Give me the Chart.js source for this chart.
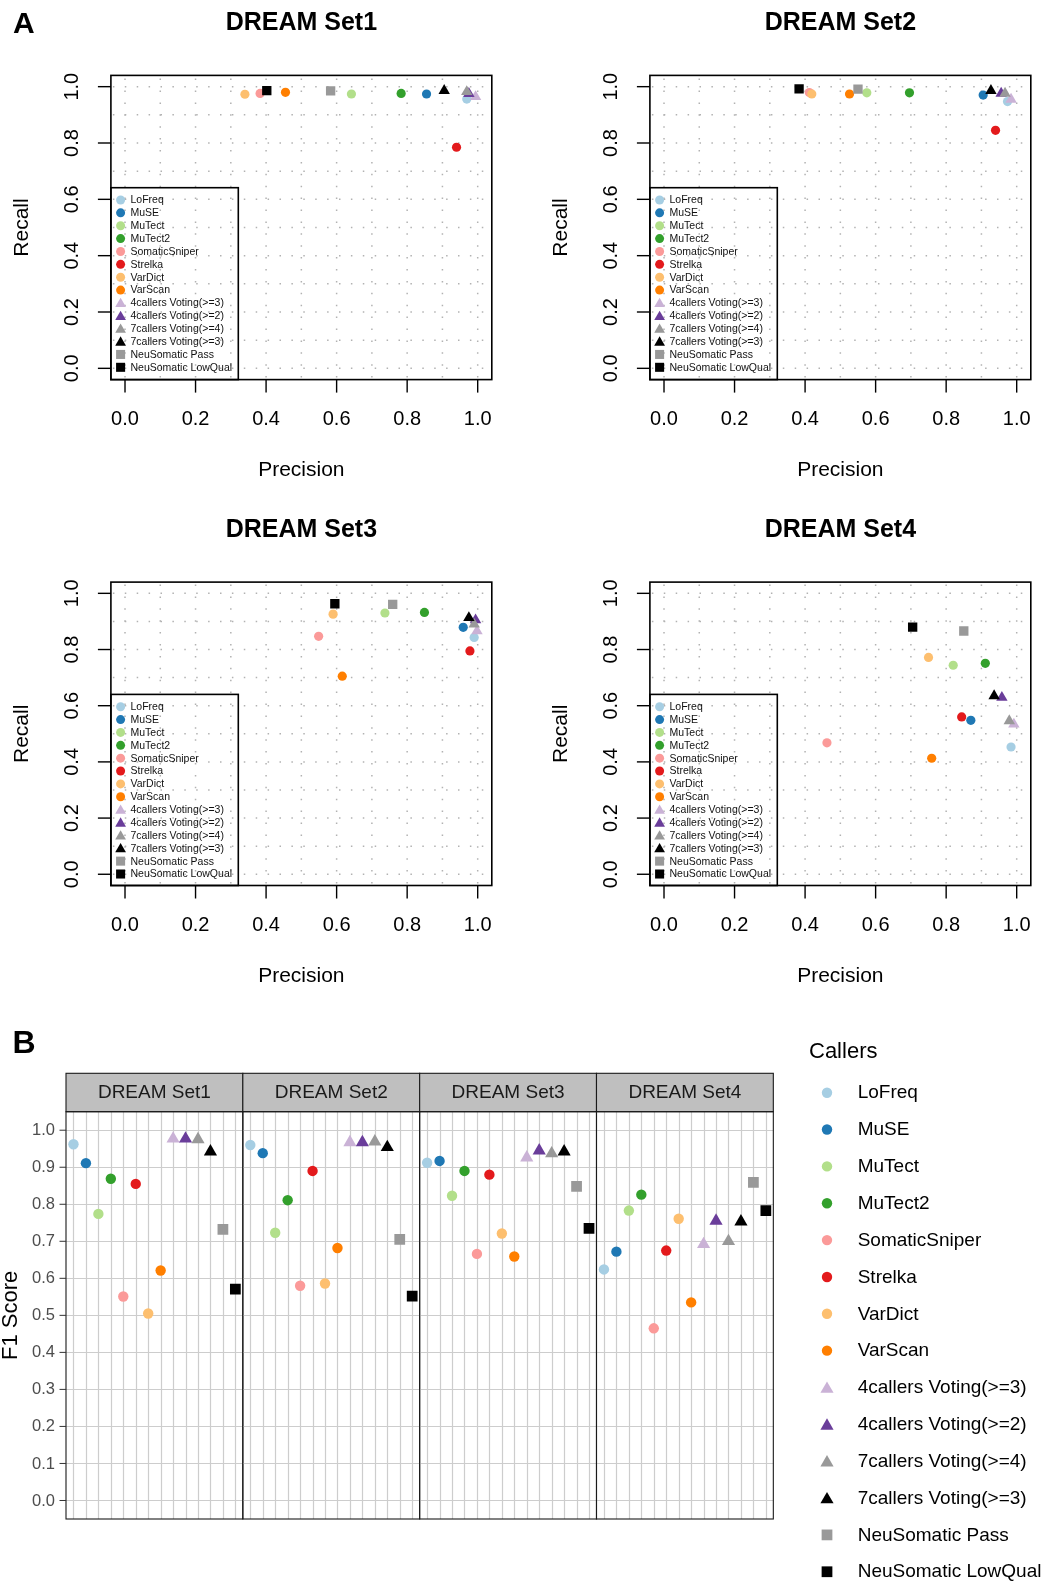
<!DOCTYPE html>
<html>
<head>
<meta charset="utf-8">
<title>DREAM callers</title>
<script src="https://cdn.jsdelivr.net/npm/chart.js@4.4.1/dist/chart.umd.min.js"></script>
<style>
  body { margin: 0; background: #fff; }
  #page { position: relative; width: 1058px; height: 1585px; overflow: hidden; background: #fff; }
  #page canvas { position: absolute; }
</style>
</head>
<body>
<div id="page"></div>
<script>
var FONT = '"Liberation Sans", Arial, Helvetica, sans-serif'

// callers, colours and marker shapes
var callers = ['LoFreq', 'MuSE', 'MuTect', 'MuTect2', 'SomaticSniper', 'Strelka', 'VarDict', 'VarScan',
  '4callers Voting(>=3)', '4callers Voting(>=2)', '7callers Voting(>=4)', '7callers Voting(>=3)',
  'NeuSomatic Pass', 'NeuSomatic LowQual']
var callerColors = ['#a6cee3', '#1f78b4', '#b2df8a', '#33a02c', '#fb9a99', '#e31a1c', '#fdbf6f', '#ff7f00',
  '#cab2d6', '#6a3d9a', '#999999', '#000000', '#999999', '#000000']
var callerShapes = ['circle', 'circle', 'circle', 'circle', 'circle', 'circle', 'circle', 'circle',
  'triangle', 'triangle', 'triangle', 'triangle', 'rect', 'rect']

var setNames = ['DREAM Set1', 'DREAM Set2', 'DREAM Set3', 'DREAM Set4']

// precision / recall per set, same order as callers
var precisionSet1 = [0.969, 0.855, 0.642, 0.783, 0.383, 0.940, 0.340, 0.455, 0.994, 0.975, 0.969, 0.905, 0.583, 0.402]
var recallSet1 = [0.956, 0.974, 0.974, 0.976, 0.976, 0.785, 0.973, 0.980, 0.964, 0.975, 0.982, 0.986, 0.985, 0.986]
var precisionSet2 = [0.974, 0.905, 0.575, 0.696, 0.412, 0.940, 0.419, 0.526, 0.984, 0.956, 0.967, 0.927, 0.550, 0.383]
var recallSet2 = [0.947, 0.970, 0.978, 0.978, 0.979, 0.845, 0.974, 0.974, 0.955, 0.976, 0.976, 0.986, 0.991, 0.992]
var precisionSet3 = [0.990, 0.959, 0.737, 0.849, 0.549, 0.978, 0.590, 0.616, 0.998, 0.994, 0.990, 0.975, 0.759, 0.595]
var recallSet3 = [0.843, 0.879, 0.930, 0.932, 0.847, 0.795, 0.926, 0.705, 0.866, 0.905, 0.890, 0.913, 0.961, 0.963]
var precisionSet4 = [0.984, 0.870, 0.820, 0.911, 0.462, 0.844, 0.750, 0.759, 0.992, 0.958, 0.979, 0.936, 0.850, 0.705]
var recallSet4 = [0.453, 0.548, 0.744, 0.751, 0.468, 0.560, 0.772, 0.413, 0.534, 0.629, 0.546, 0.635, 0.866, 0.880]

// F1 scores per set
var f1Set1 = [0.962, 0.911, 0.774, 0.869, 0.551, 0.855, 0.505, 0.621, 0.977, 0.977, 0.975, 0.942, 0.732, 0.571]
var f1Set2 = [0.960, 0.938, 0.723, 0.811, 0.580, 0.890, 0.586, 0.682, 0.967, 0.967, 0.969, 0.954, 0.705, 0.552]
var f1Set3 = [0.912, 0.917, 0.823, 0.890, 0.666, 0.880, 0.721, 0.659, 0.926, 0.945, 0.937, 0.942, 0.848, 0.735]
var f1Set4 = [0.624, 0.672, 0.783, 0.826, 0.465, 0.675, 0.761, 0.535, 0.692, 0.755, 0.700, 0.753, 0.859, 0.783]

// axis ticks
var prTicks = [0, 0.2, 0.4, 0.6, 0.8, 1.0]
var prGrid = [0, 0.1, 0.2, 0.3, 0.4, 0.5, 0.6, 0.7, 0.8, 0.9, 1.0]
var f1Ticks = [0, 0.1, 0.2, 0.3, 0.4, 0.5, 0.6, 0.7, 0.8, 0.9, 1.0]

var precisionBySet = [precisionSet1, precisionSet2, precisionSet3, precisionSet4]
var recallBySet = [recallSet1, recallSet2, recallSet3, recallSet4]
var f1BySet = [f1Set1, f1Set2, f1Set3, f1Set4]

var page = document.getElementById('page')

function makeCanvas (left, top, width, height) {
  var c = document.createElement('canvas')
  c.width = width
  c.height = height
  c.style.left = left + 'px'
  c.style.top = top + 'px'
  c.style.width = width + 'px'
  c.style.height = height + 'px'
  page.appendChild(c)
  return c
}

// same geometry as Chart.js point styles, for the legends
function drawMarker (ctx, shape, x, y, r, color) {
  ctx.fillStyle = color
  ctx.beginPath()
  if (shape === 'circle') {
    ctx.arc(x, y, r, 0, Math.PI * 2)
  } else if (shape === 'triangle') {
    ctx.moveTo(x, y - r)
    ctx.lineTo(x + 0.866 * r, y + 0.5 * r)
    ctx.lineTo(x - 0.866 * r, y + 0.5 * r)
    ctx.closePath()
  } else {
    var s = r * Math.SQRT1_2
    ctx.rect(x - s, y - s, 2 * s, 2 * s)
  }
  ctx.fill()
}

function rotatedText (ctx, text, x, y) {
  ctx.save()
  ctx.translate(x, y)
  ctx.rotate(-Math.PI / 2)
  ctx.fillText(text, 0, 0)
  ctx.restore()
}

function fmt (v) { return v.toFixed(1) }

function pointDatasets (k, xOf, yOf, radius) {
  return callers.map(function (name, i) {
    return {
      label: name,
      data: [{ x: xOf(k, i), y: yOf(k, i) }],
      pointStyle: callerShapes[i],
      pointRadius: radius[callerShapes[i]],
      pointHoverRadius: radius[callerShapes[i]],
      pointBackgroundColor: callerColors[i],
      pointBorderColor: callerColors[i],
      pointBorderWidth: 0,
      clip: 12,
      order: -i
    }
  })
}

// ---- A: precision / recall scatter panels ----

var prRadius = { circle: 4.6, triangle: 6.6, rect: 6.6 }
var prLegendRadius = { circle: 4.5, triangle: 6.2, rect: 6.4 }

var prPanels = [
  { left: 0, top: 0, pad: { left: 110.9, top: 75.4, right: 37.2, bottom: 120.4 } },
  { left: 529, top: 0, pad: { left: 120.9, top: 75.4, right: 27.2, bottom: 120.4 } },
  { left: 0, top: 500, pad: { left: 110.9, top: 82.1, right: 37.2, bottom: 114.5 } },
  { left: 529, top: 500, pad: { left: 120.9, top: 82.1, right: 27.2, bottom: 114.5 } }
]

function prPanelPlugin (k) {
  return {
    id: 'prPanel' + k,
    beforeDatasetsDraw: function (chart) {
      var ctx = chart.ctx
      var a = chart.chartArea
      var xs = chart.scales.x
      var ys = chart.scales.y
      ctx.save()
      ctx.strokeStyle = '#b2b2b2'
      ctx.lineWidth = 1.5
      ctx.setLineDash([1.5, 10.4])
      prGrid.forEach(function (v) {
        var px = xs.getPixelForValue(v)
        ctx.beginPath()
        ctx.moveTo(px, a.bottom - 2)
        ctx.lineTo(px, a.top)
        ctx.stroke()
        var py = ys.getPixelForValue(v)
        ctx.beginPath()
        ctx.moveTo(a.left + 2, py)
        ctx.lineTo(a.right, py)
        ctx.stroke()
      })
      ctx.restore()
    },
    afterDatasetsDraw: function (chart) {
      var ctx = chart.ctx
      var a = chart.chartArea
      var xs = chart.scales.x
      var ys = chart.scales.y
      ctx.save()
      ctx.strokeStyle = '#000'
      ctx.fillStyle = '#000'
      ctx.lineWidth = 1.6

      // plot box
      ctx.strokeRect(a.left, a.top, a.right - a.left, a.bottom - a.top)

      // axes
      ctx.lineWidth = 1.4
      ctx.font = '20px ' + FONT
      ctx.textAlign = 'center'
      ctx.textBaseline = 'middle'
      prTicks.forEach(function (v) {
        var px = xs.getPixelForValue(v)
        ctx.beginPath()
        ctx.moveTo(px, a.bottom)
        ctx.lineTo(px, a.bottom + 13)
        ctx.stroke()
        ctx.fillText(fmt(v), px, a.bottom + 40)
        var py = ys.getPixelForValue(v)
        ctx.beginPath()
        ctx.moveTo(a.left - 13, py)
        ctx.lineTo(a.left, py)
        ctx.stroke()
        rotatedText(ctx, fmt(v), a.left - 38, py)
      })
      ctx.font = '21px ' + FONT
      ctx.fillText('Precision', (a.left + a.right) / 2, a.bottom + 90.5)
      rotatedText(ctx, 'Recall', a.left - 89, (a.top + a.bottom) / 2)

      // title and panel letter
      ctx.font = 'bold 25px ' + FONT
      ctx.fillText(setNames[k], (a.left + a.right) / 2, a.top - 52)
      if (k === 0) {
        ctx.font = 'bold 30px ' + FONT
        ctx.textAlign = 'left'
        ctx.textBaseline = 'alphabetic'
        ctx.fillText('A', 13, 33)
      }

      // bottom-left legend
      var lTop = a.top + 112.3
      ctx.lineWidth = 1.6
      ctx.strokeRect(a.left, lTop, 127.4, a.bottom - lTop)
      ctx.font = '10.5px ' + FONT
      ctx.textAlign = 'left'
      ctx.textBaseline = 'middle'
      callers.forEach(function (name, i) {
        var y = lTop + 12.3 + i * 12.87
        drawMarker(ctx, callerShapes[i], a.left + 9.7, y + (callerShapes[i] === 'triangle' ? 1 : 0), prLegendRadius[callerShapes[i]], callerColors[i])
        ctx.fillStyle = '#111'
        ctx.fillText(name, a.left + 19.6, y + 0.5)
      })
      ctx.restore()
    }
  }
}

prPanels.forEach(function (p, k) {
  var canvas = makeCanvas(p.left, p.top, 529, 500)
  new Chart(canvas, {
    type: 'scatter',
    data: {
      datasets: pointDatasets(k,
        function (s, i) { return precisionBySet[s][i] },
        function (s, i) { return recallBySet[s][i] },
        prRadius)
    },
    options: {
      responsive: false,
      animation: false,
      devicePixelRatio: 1,
      events: [],
      layout: { padding: p.pad, autoPadding: false },
      plugins: { legend: { display: false }, tooltip: { enabled: false } },
      scales: {
        x: { type: 'linear', min: -0.04, max: 1.04, display: false },
        y: { type: 'linear', min: -0.04, max: 1.04, display: false }
      }
    },
    plugins: [prPanelPlugin(k)]
  })
})

// ---- B: F1 score facets ----

var f1Radius = { circle: 5.2, triangle: 7.6, rect: 7.6 }
var facetLeft0 = 66
var facetWidth = 176.83
var facetTop = 1111.7
var facetBottom = 1519
var stripHeight = 38.4
var bTop = 1020

function f1FacetPlugin (k, canvasLeft) {
  return {
    id: 'f1Facet' + k,
    beforeDatasetsDraw: function (chart) {
      var ctx = chart.ctx
      var a = chart.chartArea
      var xs = chart.scales.x
      var ys = chart.scales.y
      ctx.save()
      ctx.strokeStyle = '#cdcdcd'
      ctx.lineWidth = 1.2
      callers.forEach(function (c, i) {
        var px = Math.round(xs.getPixelForValue(i + 1)) + 0.5
        ctx.beginPath()
        ctx.moveTo(px, a.top)
        ctx.lineTo(px, a.bottom)
        ctx.stroke()
      })
      f1Ticks.forEach(function (v) {
        var py = Math.round(ys.getPixelForValue(v)) + 0.5
        ctx.beginPath()
        ctx.moveTo(a.left, py)
        ctx.lineTo(a.right, py)
        ctx.stroke()
      })
      ctx.restore()
    },
    afterDraw: function (chart) {
      var ctx = chart.ctx
      var a = chart.chartArea
      var ys = chart.scales.y
      ctx.save()

      // strip and panel border
      ctx.fillStyle = '#bfbfbf'
      ctx.fillRect(a.left, a.top - stripHeight, a.right - a.left, stripHeight)
      ctx.strokeStyle = '#1a1a1a'
      ctx.lineWidth = 1.1
      ctx.strokeRect(a.left, a.top - stripHeight, a.right - a.left, stripHeight)
      ctx.strokeRect(a.left, a.top, a.right - a.left, a.bottom - a.top)
      ctx.fillStyle = '#1a1a1a'
      ctx.font = '19px ' + FONT
      ctx.textAlign = 'center'
      ctx.textBaseline = 'middle'
      ctx.fillText(setNames[k], (a.left + a.right) / 2, a.top - stripHeight / 2 + 0.5)

      if (k === 0) {
        ctx.font = '16.5px ' + FONT
        ctx.textAlign = 'right'
        ctx.fillStyle = '#4d4d4d'
        ctx.strokeStyle = '#333'
        ctx.lineWidth = 1
        f1Ticks.forEach(function (v) {
          var py = ys.getPixelForValue(v)
          ctx.beginPath()
          ctx.moveTo(a.left - 6.5, py)
          ctx.lineTo(a.left, py)
          ctx.stroke()
          ctx.fillText(fmt(v), a.left - 11, py + 0.5)
        })
        ctx.fillStyle = '#000'
        ctx.textAlign = 'center'
        ctx.font = '22px ' + FONT
        rotatedText(ctx, 'F1 Score', 11, (a.top + a.bottom) / 2)
        ctx.font = 'bold 32px ' + FONT
        ctx.textAlign = 'left'
        ctx.textBaseline = 'alphabetic'
        ctx.fillText('B', 12.5, 1053.3 - bTop)
      }

      if (k === 3) {
        var ox = -canvasLeft
        var oy = -bTop
        ctx.fillStyle = '#000'
        ctx.textAlign = 'left'
        ctx.textBaseline = 'middle'
        ctx.font = '22px ' + FONT
        ctx.fillText('Callers', 809 + ox, 1052 + oy)
        ctx.font = '19px ' + FONT
        callers.forEach(function (name, i) {
          var y = 1092.7 + i * 36.85 + oy
          drawMarker(ctx, callerShapes[i], 827 + ox, y + (callerShapes[i] === 'triangle' ? 1.5 : 0), f1Radius[callerShapes[i]], callerColors[i])
          ctx.fillStyle = '#000'
          ctx.fillText(name, 857.7 + ox, y + 0.5)
        })
      }
      ctx.restore()
    }
  }
}

setNames.forEach(function (name, k) {
  var fLeft = facetLeft0 + k * facetWidth
  var fRight = fLeft + facetWidth
  var canvasLeft = k === 0 ? 0 : Math.floor(fLeft) - 12
  var canvasRight = k === 3 ? 1058 : Math.ceil(fRight) + 12
  var width = canvasRight - canvasLeft
  var height = 1585 - bTop
  var canvas = makeCanvas(canvasLeft, bTop, width, height)
  new Chart(canvas, {
    type: 'scatter',
    data: {
      datasets: pointDatasets(k,
        function (s, i) { return i + 1 },
        function (s, i) { return f1BySet[s][i] },
        f1Radius)
    },
    options: {
      responsive: false,
      animation: false,
      devicePixelRatio: 1,
      events: [],
      layout: {
        autoPadding: false,
        padding: {
          left: fLeft - canvasLeft,
          right: canvasRight - fRight,
          top: facetTop - bTop,
          bottom: 1585 - facetBottom
        }
      },
      plugins: { legend: { display: false }, tooltip: { enabled: false } },
      scales: {
        x: { type: 'linear', min: 0.4, max: 14.6, display: false },
        y: { type: 'linear', min: -0.05, max: 1.05, display: false }
      }
    },
    plugins: [f1FacetPlugin(k, canvasLeft)]
  })
})
</script>
</body>
</html>
